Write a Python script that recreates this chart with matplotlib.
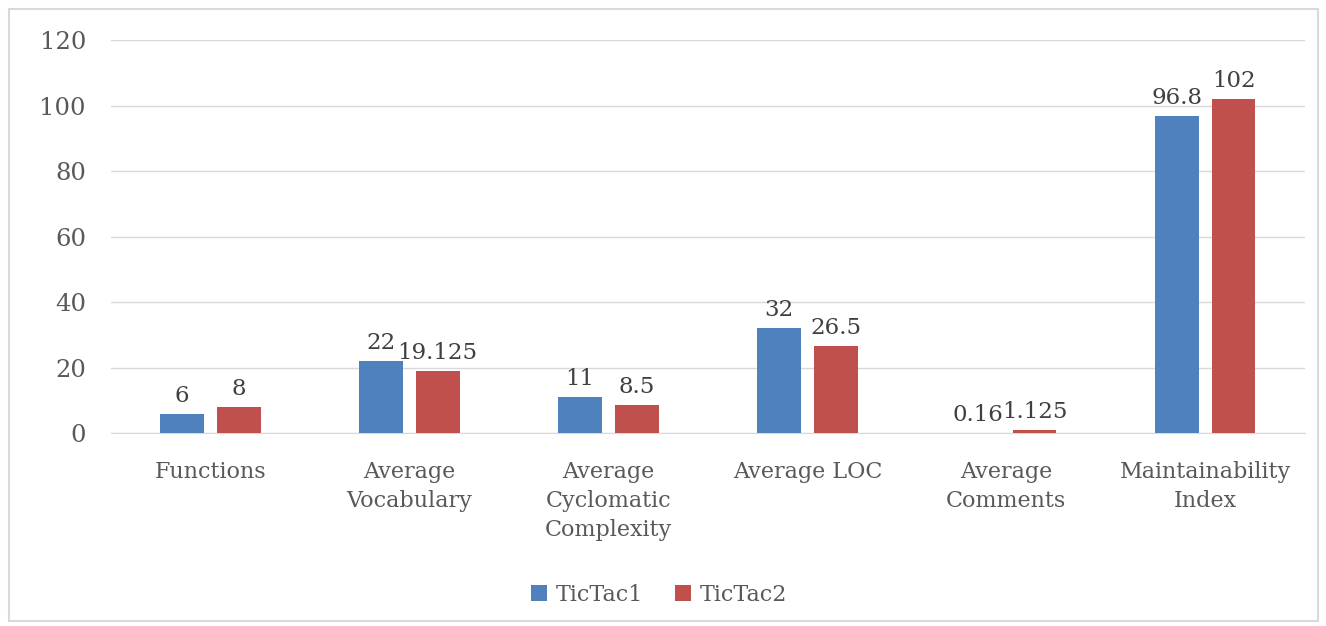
import matplotlib.pyplot as plt
import numpy as np
from matplotlib.patches import Rectangle

categories = ["Functions", "Average\nVocabulary", "Average\nCyclomatic\nComplexity",
              "Average LOC", "Average\nComments", "Maintainability\nIndex"]
tictac1 = [6, 22, 11, 32, 0.16, 96.8]
tictac2 = [8, 19.125, 8.5, 26.5, 1.125, 102]
labels1 = ["6", "22", "11", "32", "0.16", "96.8"]
labels2 = ["8", "19.125", "8.5", "26.5", "1.125", "102"]

plt.rcParams['font.family'] = ['DejaVu Serif']

fig = plt.figure(figsize=(13.26, 6.26), dpi=100)
ax = fig.add_axes([0.0837, 0.308, 0.9003, 0.628])

x = np.arange(len(categories))
w = 0.22
b1 = ax.bar(x - 0.142, tictac1, w, color='#4F81BD', label='TicTac1', zorder=3)
b2 = ax.bar(x + 0.142, tictac2, w, color='#C0504D', label='TicTac2', zorder=3)

for bars, labs in ((b1, labels1), (b2, labels2)):
    for rect, lab in zip(bars, labs):
        ax.annotate(lab, (rect.get_x() + rect.get_width() / 2, rect.get_height()),
                    xytext=(0, 5), textcoords='offset points', ha='center', va='bottom',
                    fontsize=16.5, color='#404040')

ax.set_xlim(-0.5, 5.5)
ax.set_ylim(0, 120)
ax.set_yticks(range(0, 121, 20))
ax.set_xticks(x)
ax.set_xticklabels(categories, fontsize=16, color='#595959', linespacing=1.42)
ax.tick_params(axis='y', labelsize=17.5, labelcolor='#595959', length=0, pad=18)
ax.tick_params(axis='x', length=0, pad=20)
ax.grid(axis='y', color='#D9D9D9', linewidth=1, zorder=0)
for s in ['top', 'right', 'left']:
    ax.spines[s].set_visible(False)
ax.spines['bottom'].set_color('#D9D9D9')

fig.legend(loc='center', bbox_to_anchor=(0.497, 0.05), ncol=2, frameon=False,
           fontsize=16, labelcolor='#595959', handlelength=0.75, handleheight=0.75,
           handletextpad=0.4, columnspacing=1.4)

fig.patches.append(Rectangle((0.007, 0.008), 0.987, 0.977, transform=fig.transFigure,
                             fill=False, edgecolor='#D9D9D9', linewidth=1.5))

fig.savefig('out.png', dpi=100)
